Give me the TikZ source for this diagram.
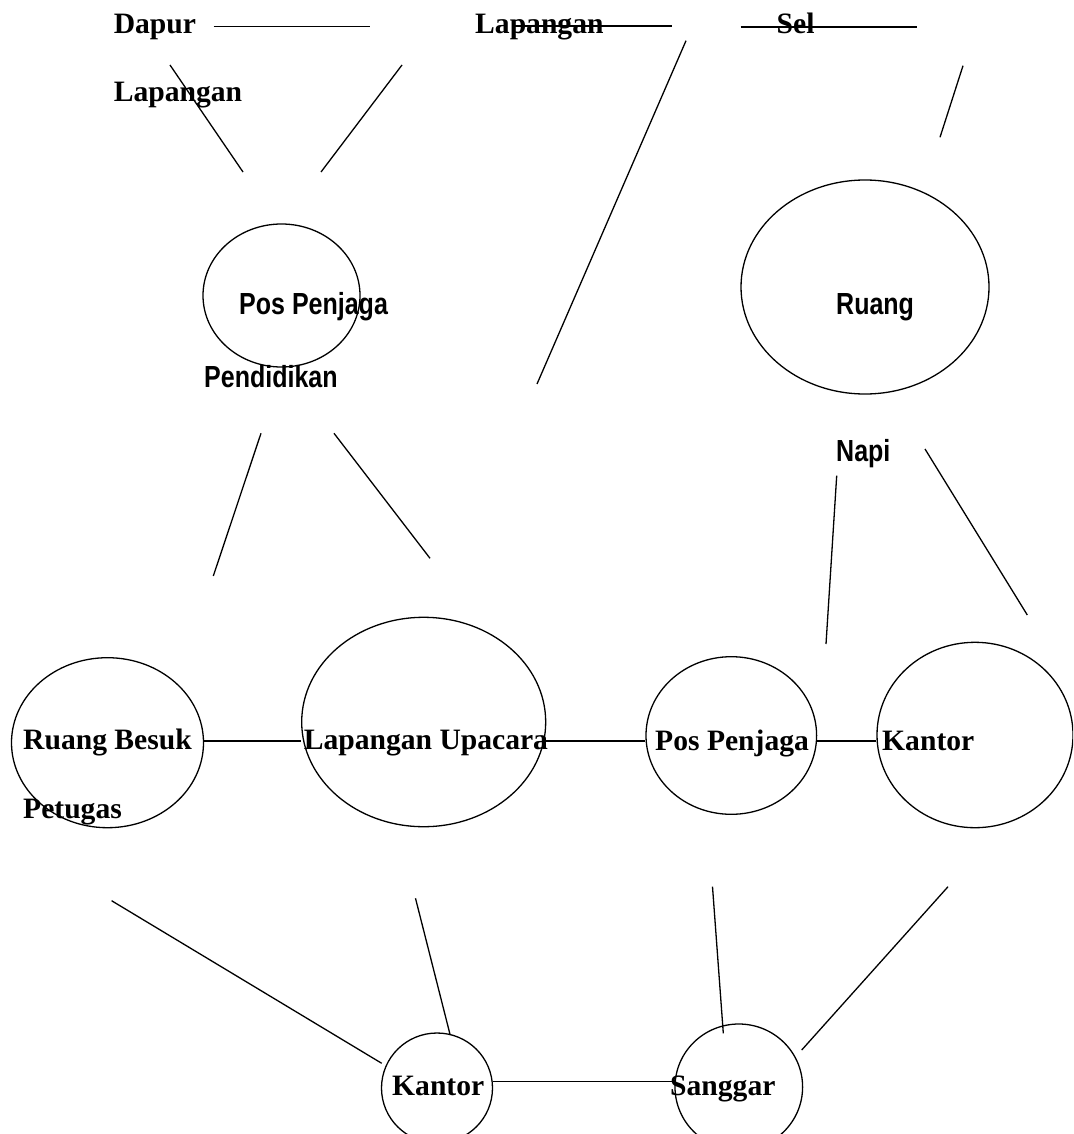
\documentclass[tikz,border=0pt]{standalone}
\usepackage{fontspec}
\setmainfont{Liberation Serif}
\newfontfamily\narrowsans[FakeStretch=0.82]{Liberation Sans}
\usetikzlibrary{shapes.geometric}
\tikzset{
  ell/.style={draw, ellipse, line width=1.3pt, inner sep=0pt},
  conn/.style={line width=1.3pt},
  serif/.style={anchor=base west, inner sep=0pt, font=\fontsize{29.6}{34}\selectfont\bfseries},
  sans/.style={anchor=base west, inner sep=0pt, font=\fontsize{30.5}{35}\narrowsans\bfseries},
}
\begin{document}
\begin{tikzpicture}[x=1pt,y=-1pt]
\useasboundingbox (0,0) rectangle (1073,1134);
\clip (0,0) rectangle (1073,1134);
\fill[white] (0,0) rectangle (1073,1134);

% ellipses
\node[ell, minimum width=157pt, minimum height=143pt] (pp1) at (281.5,295.5) {};
\node[ell, minimum width=248pt, minimum height=214pt] (ru) at (865,287) {};
\node[ell, minimum width=192pt, minimum height=170pt] (rb) at (107.5,742.7) {};
\node[ell, minimum width=244pt, minimum height=209.4pt] (lu) at (423.7,722) {};
\node[ell, minimum width=170.6pt, minimum height=157.6pt] (pp2) at (731.3,735.5) {};
\node[ell, minimum width=196pt, minimum height=185.4pt] (ka1) at (975,735) {};
\node[ell, minimum width=111pt, minimum height=110pt] (ka2) at (437,1088) {};
\node[ell, minimum width=127.6pt, minimum height=126pt] (sg) at (738.8,1087) {};

% texts
\node[serif] (tdapur) at (113.6,33.3) {Dapur};
\node[serif] (tlap1) at (475,33.3) {Lapangan};
\node[serif] (tsel) at (776.5,33.3) {Sel};
\node[serif] (tlap2) at (113.6,102) {Lapangan};
\node[sans] (tpp1) at (239,314) {Pos Penjaga};
\node[sans] (tpend) at (204,387) {Pendidikan};
\node[sans] (truang) at (836,314.3) {Ruang};
\node[sans] (tnapi) at (836,461.5) {Napi};
\node[serif] (trb) at (23,749.3) {Ruang Besuk};
\node[serif] (tpet) at (23,818.3) {Petugas};
\node[serif] (tlu) at (303.6,749.3) {Lapangan Upacara};
\node[serif] (tpp2) at (655,750) {Pos Penjaga};
\node[serif] (tka1) at (882,750) {Kantor};
\node[serif] (tka2) at (392,1095.5) {Kantor};
\node[serif] (tsg) at (670,1095.5) {Sanggar};

% connector end points
\coordinate (rowA) at (0,741);
\coordinate (rowB) at (0,1081.5);
\coordinate (h1a) at (213.5,26.7);  \coordinate (h1b) at (370,26.7);
\coordinate (h2a) at (513,26);      \coordinate (h2b) at (672,26);
\coordinate (h3a) at (740.5,27);    \coordinate (h3b) at (917,27);
\coordinate (d1a) at (170,65);      \coordinate (d1b) at (243,172);
\coordinate (d2a) at (402,65);      \coordinate (d2b) at (321,172);
\coordinate (d3a) at (686,40.7);    \coordinate (d3b) at (537,384);
\coordinate (d4a) at (963,65.7);    \coordinate (d4b) at (940,137.3);
\coordinate (d5a) at (261,433.3);   \coordinate (d5b) at (213.3,576);
\coordinate (d6a) at (334,433.3);   \coordinate (d6b) at (430,558.3);
\coordinate (d7a) at (836.7,475.7); \coordinate (d7b) at (826,644);
\coordinate (d8a) at (925,449);     \coordinate (d8b) at (1027.3,615);
\coordinate (d9a) at (111.6,900.7); \coordinate (d9b) at (381.7,1063.3);
\coordinate (d10a) at (415.5,898.3); \coordinate (d10b) at (450,1034.3);
\coordinate (d11a) at (712.5,886.7); \coordinate (d11b) at (723.3,1033.3);
\coordinate (d12a) at (948,886.7);  \coordinate (d12b) at (801.7,1050);

% connectors
\draw[conn] (h1a) -- (h1b);
\draw[conn] (h2a) -- (h2b);
\draw[conn] (h3a) -- (h3b);
\draw[conn] (d1a) -- (d1b);
\draw[conn] (d2a) -- (d2b);
\draw[conn] (d3a) -- (d3b);
\draw[conn] (d4a) -- (d4b);
\draw[conn] (d5a) -- (d5b);
\draw[conn] (d6a) -- (d6b);
\draw[conn] (d7a) -- (d7b);
\draw[conn] (d8a) -- (d8b);
\draw[conn] (d9a) -- (d9b);
\draw[conn] (d10a) -- (d10b);
\draw[conn] (d11a) -- (d11b);
\draw[conn] (d12a) -- (d12b);
\draw[conn] (rb.east |- rowA) -- (lu.west |- rowA);
\draw[conn] (lu.east |- rowA) -- (pp2.west |- rowA);
\draw[conn] (pp2.east |- rowA) -- (ka1.west |- rowA);
\draw[conn] (ka2.east |- rowB) -- (sg.west |- rowB);
\end{tikzpicture}
\end{document}
